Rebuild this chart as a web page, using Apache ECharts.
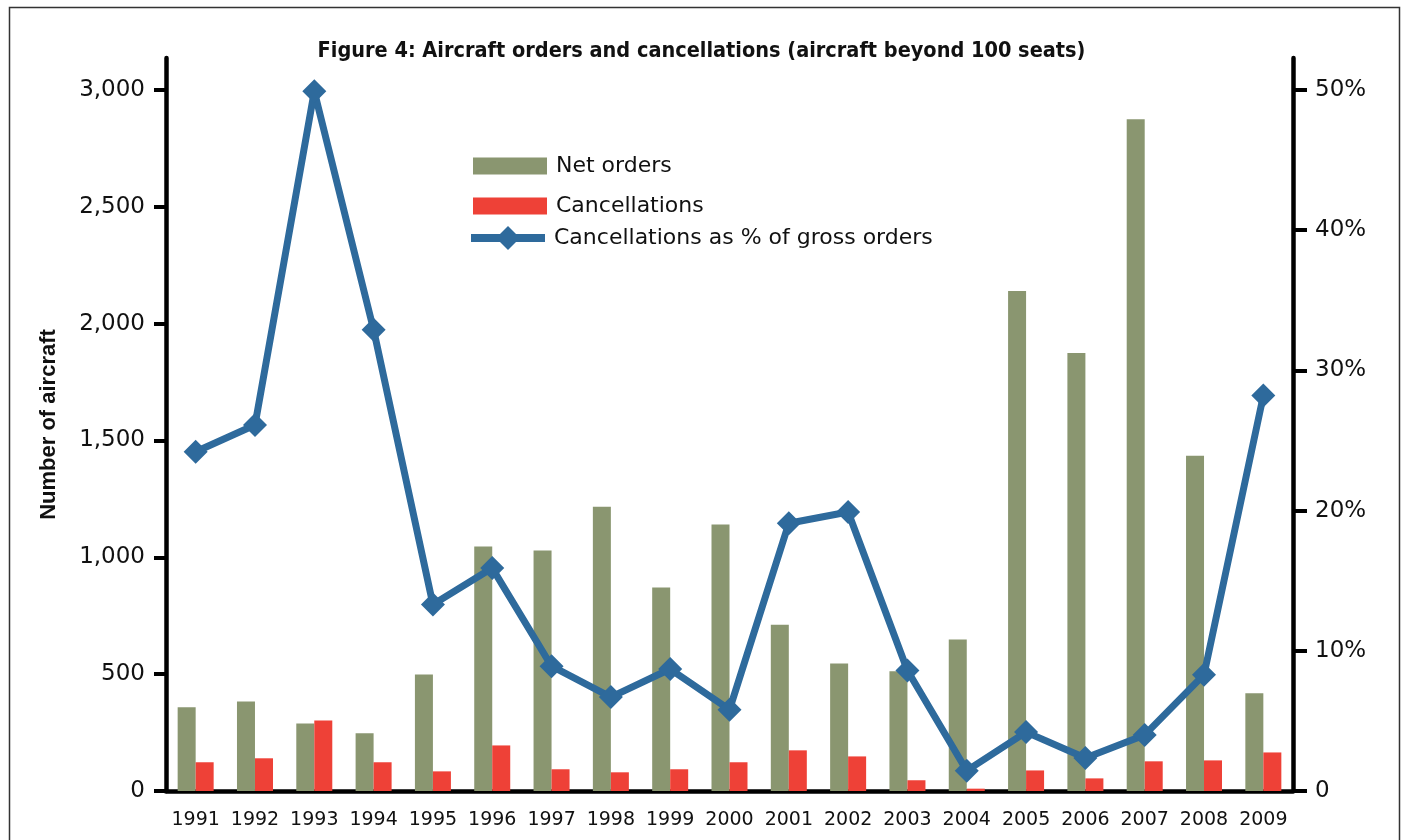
<!DOCTYPE html>
<html>
<head>
<meta charset="utf-8">
<title>Aircraft orders and cancellations</title>
<script src="https://cdn.jsdelivr.net/npm/echarts@6.0.0/dist/echarts.min.js"></script>
<style>
  html, body { margin: 0; padding: 0; background: #fff; }
  #chart { width: 1403px; height: 840px; }
</style>
</head>
<body>
<div id="chart"></div>
<script>
// data
const years = ['1991', '1992', '1993', '1994', '1995', '1996', '1997', '1998', '1999', '2000',
  '2001', '2002', '2003', '2004', '2005', '2006', '2007', '2008', '2009']
const netOrders = [358, 383, 289, 247, 499, 1046, 1029, 1217, 871, 1140, 712, 546, 512, 648, 2140, 1875, 2875, 1435, 418]
const cancellations = [123, 140, 302, 123, 84, 195, 93, 80, 93, 123, 174, 148, 46, 10, 88, 54, 127, 131, 165]
const cancelPct = [24.2, 26.1, 49.9, 32.9, 13.3, 15.9, 8.9, 6.7, 8.7, 5.8, 19.1, 19.9, 8.6, 1.45, 4.2, 2.35, 4.0, 8.3, 28.2]
const leftTicks = [0, 500, 1000, 1500, 2000, 2500, 3000]
const rightTicks = [0, 10, 20, 30, 40, 50]

const GREEN = '#8a9670'
const RED = '#ee4137'
const BLUE = '#2e6a9c'
const FONT = 'DejaVu Sans'

const legendText = { fontFamily: FONT, fontSize: 22, color: '#111', padding: [0, 0, 0, 4] }

const option = {
  animation: false,
  title: {
    text: 'Figure 4: Aircraft orders and cancellations (aircraft beyond 100 seats)',
    left: 'center',
    top: 35,
    textStyle: {
      fontFamily: '"DejaVu Sans Condensed", "Liberation Sans", sans-serif',
      fontWeight: 'bold',
      fontSize: 21.5,
      color: '#111'
    }
  },
  graphic: [{
    type: 'rect',
    left: 7,
    top: 5,
    shape: { width: 1390, height: 860 },
    style: { fill: null, stroke: '#333', lineWidth: 1.5 },
    silent: true
  }],
  legend: [
    { data: [{ name: 'Net orders', icon: 'rect' }], orient: 'vertical', left: 468, top: 150, itemWidth: 74, itemHeight: 17, textStyle: legendText },
    { data: [{ name: 'Cancellations', icon: 'rect' }], orient: 'vertical', left: 468, top: 190, itemWidth: 74, itemHeight: 17, textStyle: legendText },
    {
      data: ['Cancellations as % of gross orders'],
      orient: 'vertical',
      left: 462,
      top: 221,
      itemWidth: 74,
      itemHeight: 30,
      lineStyle: { width: 8 },
      textStyle: legendText
    }
  ],
  grid: { left: 166, right: 110, top: 58, bottom: 49 },
  xAxis: {
    type: 'category',
    data: years,
    boundaryGap: true,
    axisLine: { lineStyle: { color: '#000', width: 4.5 } },
    axisTick: { interval: 0, length: 14, lineStyle: { color: '#000', width: 3 } },
    axisLabel: { interval: 0, margin: 20, fontFamily: FONT, fontSize: 19, color: '#111' }
  },
  yAxis: [{
    type: 'value',
    min: 0,
    max: 3137,
    interval: 500,
    name: 'Number of aircraft',
    nameLocation: 'middle',
    nameGap: 106,
    nameTextStyle: { fontFamily: 'Liberation Sans', fontWeight: 'bold', fontSize: 22, color: '#111' },
    splitLine: { show: false },
    axisLine: { show: true, lineStyle: { color: '#000', width: 4.5 } },
    axisTick: { show: true, length: 12, customValues: leftTicks, lineStyle: { color: '#000', width: 4 } },
    axisLabel: {
      margin: 21,
      customValues: leftTicks,
      fontFamily: FONT,
      fontSize: 23,
      color: '#111',
      formatter: v => v.toLocaleString('en-US')
    }
  }, {
    type: 'value',
    min: 0,
    max: 52.28,
    interval: 10,
    position: 'right',
    splitLine: { show: false },
    axisLine: { show: true, lineStyle: { color: '#000', width: 4.5 } },
    axisTick: { show: true, length: 14, customValues: rightTicks, lineStyle: { color: '#000', width: 4 } },
    axisLabel: {
      margin: 22,
      customValues: rightTicks,
      fontFamily: FONT,
      fontSize: 23,
      color: '#111',
      formatter: v => (v === 0 ? '0' : v + '%')
    }
  }],
  series: [
    {
      name: 'Net orders',
      type: 'bar',
      barWidth: 18,
      barGap: '0%',
      itemStyle: { color: GREEN },
      data: netOrders
    },
    {
      name: 'Cancellations',
      type: 'bar',
      barWidth: 18,
      itemStyle: { color: RED },
      data: cancellations
    },
    {
      name: 'Cancellations as % of gross orders',
      type: 'line',
      yAxisIndex: 1,
      symbol: 'diamond',
      symbolSize: 24,
      z: 5,
      lineStyle: { color: BLUE, width: 7 },
      itemStyle: { color: BLUE },
      data: cancelPct
    }
  ]
}

const myChart = echarts.init(document.getElementById('chart'))
myChart.setOption(option)
</script>
</body>
</html>
